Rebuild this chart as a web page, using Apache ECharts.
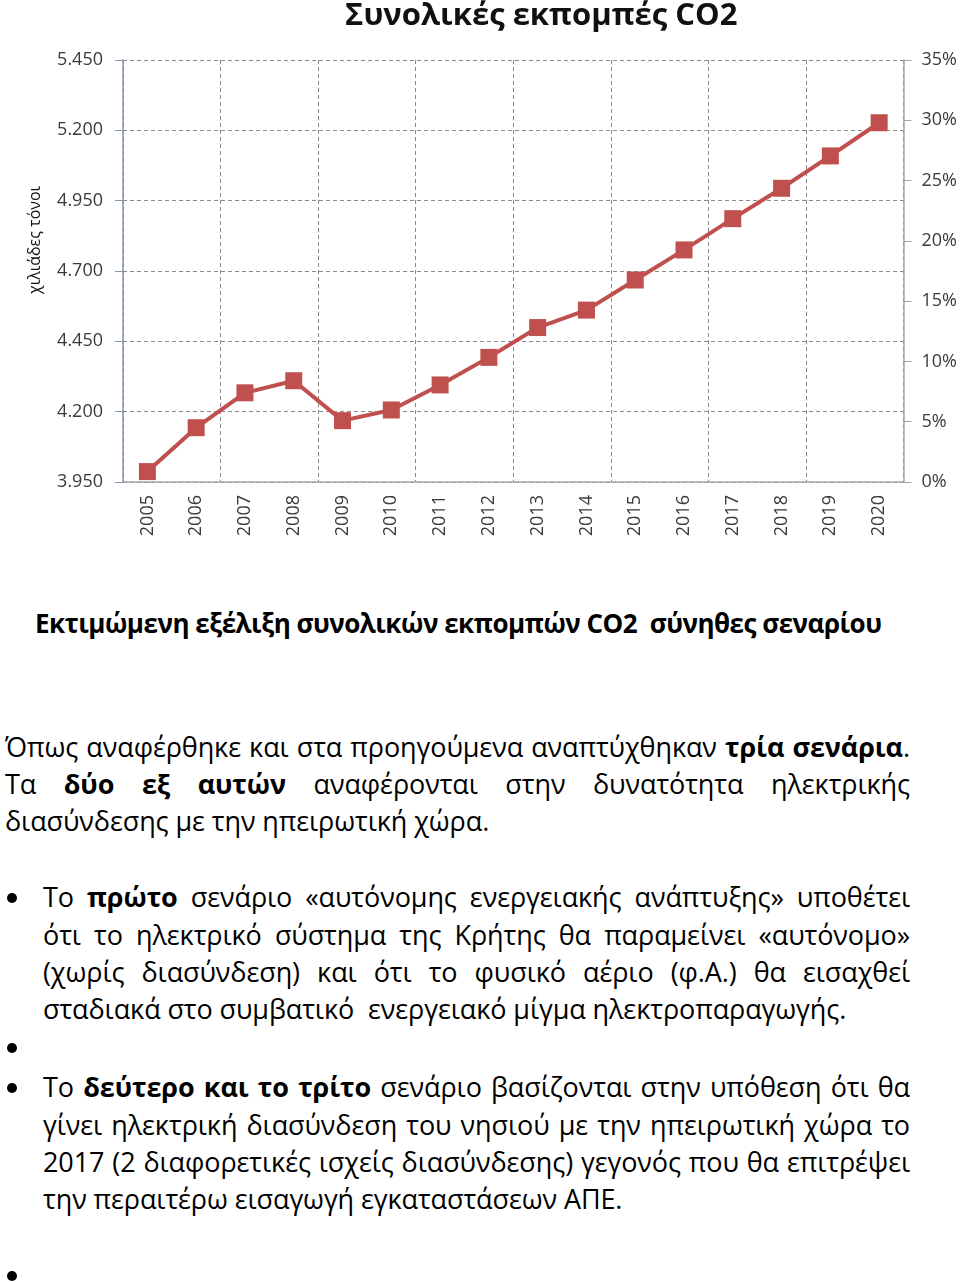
<!DOCTYPE html>
<html>
<head>
<meta charset="utf-8">
<script src="https://cdn.jsdelivr.net/npm/echarts@6/dist/echarts.min.js"></script>
<style>
  html, body { margin: 0; padding: 0; background: #fff; }
  body { width: 960px; height: 1283px; position: relative; overflow: hidden; font-family: "Open Sans", "Noto Sans", sans-serif; color: #000; }
  #chart { position: absolute; left: 0; top: 0; width: 960px; height: 560px; }
  .ln { position: absolute; height: 37px; line-height: 37px; font-size: 27px; white-space: nowrap; letter-spacing: -0.1px; }
  .j { text-align: justify; text-align-last: justify; }
  .bul { position: absolute; left: 7px; width: 10px; height: 10px; border-radius: 50%; background: #000; }
  b { font-weight: 700; }
  .h { font-weight: 700; font-size: 26px; letter-spacing: -0.5px; }
</style>
</head>
<body>
<div id="chart"></div>

<div class="ln h" style="left:35px; top:605px;">Εκτιμώμενη εξέλιξη συνολικών εκπομπών CO2&nbsp; σύνηθες σεναρίου</div>

<div class="ln j" style="left:5px; width:905px; top:728px;">Όπως αναφέρθηκε και στα προηγούμενα αναπτύχθηκαν <b>τρία σενάρια</b>.</div>
<div class="ln j" style="left:5px; width:905px; top:765px;">Τα <b>δύο εξ αυτών</b> αναφέρονται στην δυνατότητα ηλεκτρικής</div>
<div class="ln" style="left:5px; top:802px;">διασύνδεσης με την ηπειρωτική χώρα.</div>

<div class="bul" style="top:893px;"></div>
<div class="ln j" style="left:43px; width:867px; top:878px;">Το <b>πρώτο</b> σενάριο «αυτόνομης ενεργειακής ανάπτυξης» υποθέτει</div>
<div class="ln j" style="left:43px; width:867px; top:916px;">ότι το ηλεκτρικό σύστημα της Κρήτης θα παραμείνει «αυτόνομο»</div>
<div class="ln j" style="left:43px; width:867px; top:953px;">(χωρίς διασύνδεση) και ότι το φυσικό αέριο (φ.Α.) θα εισαχθεί</div>
<div class="ln" style="left:43px; top:990px;">σταδιακά στο συμβατικό&nbsp; ενεργειακό μίγμα ηλεκτροπαραγωγής.</div>

<div class="bul" style="top:1043px;"></div>

<div class="bul" style="top:1083px;"></div>
<div class="ln j" style="left:43px; width:867px; top:1068px;">Το <b>δεύτερο και το τρίτο</b> σενάριο βασίζονται στην υπόθεση ότι θα</div>
<div class="ln j" style="left:43px; width:867px; top:1106px;">γίνει ηλεκτρική διασύνδεση του νησιού με την ηπειρωτική χώρα το</div>
<div class="ln j" style="left:43px; width:867px; top:1143px;">2017 (2 διαφορετικές ισχείς διασύνδεσης) γεγονός που θα επιτρέψει</div>
<div class="ln" style="left:43px; top:1180px;">την περαιτέρω εισαγωγή εγκαταστάσεων ΑΠΕ.</div>

<div class="bul" style="top:1271px;"></div>

<script>
// ---- data ----
const years = ['2005','2006','2007','2008','2009','2010','2011','2012','2013','2014','2015','2016','2017','2018','2019','2020'];
const emissions = [3987, 4143, 4267, 4310, 4168, 4206, 4295, 4393, 4499, 4561, 4668, 4775, 4886, 4994, 5109, 5227]; // thousand tonnes
const leftMin = 3950;
const leftMax = 5450;
const leftStep = 250;
const rightMin = 0;
const rightMax = 35;
const rightStep = 5;
const titleText = 'Συνολικές εκπομπές CO2';
const yName = 'χιλιάδες τόνοι';

function fmtThousands(v) {
  return String(Math.round(v)).replace(/\B(?=(\d{3})+(?!\d))/g, '.');
}

const chart = echarts.init(document.getElementById('chart'), null, { renderer: 'canvas' });
const FONT = '"Open Sans", "Noto Sans", sans-serif';
const grid = { left: 123, right: 56, top: 60, height: 422 };

chart.setOption({
  animation: false,
  backgroundColor: '#ffffff',
  textStyle: { fontFamily: FONT },
  title: {
    text: titleText,
    left: 340, top: -4,
    textStyle: { fontFamily: FONT, fontWeight: 'bold', fontSize: 31, color: '#111' }
  },
  grid: grid,
  graphic: [{
    type: 'text',
    x: 35, y: 240,
    rotation: Math.PI / 2,
    style: { text: yName, fill: '#111', font: '16px "Open Sans", sans-serif', align: 'center', verticalAlign: 'middle' }
  }],
  xAxis: {
    type: 'category',
    data: years,
    boundaryGap: true,
    axisLine: { lineStyle: { color: '#a6a6a6', width: 1.5 } },
    axisTick: { show: false },
    axisLabel: { rotate: 90, margin: 13, fontSize: 18, color: '#3a3a3a', fontFamily: FONT, interval: 0 },
    splitLine: { show: true, interval: (idx) => idx % 2 === 0, lineStyle: { color: '#8a8a8a', type: [4, 3], width: 1 } }
  },
  yAxis: [{
    type: 'value',
    position: 'left',
    min: 0,
    max: leftMax - leftMin,
    interval: leftStep,
    axisLine: { show: true, lineStyle: { color: '#8497b0', width: 1.5 } },
    axisTick: { show: true, length: 8, lineStyle: { color: '#8497b0' } },
    axisLabel: { margin: 20, fontSize: 18, color: '#3a3a3a', fontFamily: FONT,
      formatter: v => fmtThousands(v + leftMin) },
    splitLine: { show: true, lineStyle: { color: '#8a8a8a', type: [4, 3], width: 1 } }
  }, {
    type: 'value',
    position: 'right',
    min: rightMin,
    max: rightMax,
    interval: rightStep,
    axisLine: { show: true, lineStyle: { color: '#a6a6a6', width: 1.5 } },
    axisTick: { show: true, length: 8, lineStyle: { color: '#a6a6a6' } },
    axisLabel: { margin: 18, fontSize: 18, color: '#3a3a3a', fontFamily: FONT, formatter: '{value}%' },
    splitLine: { show: false }
  }],
  series: [{
    type: 'line',
    yAxisIndex: 0,
    data: emissions.map(v => v - leftMin),
    symbol: 'rect',
    symbolSize: 17,
    lineStyle: { color: '#c0504d', width: 4 },
    itemStyle: { color: '#c0504d' }
  }]
});
</script>
</body>
</html>
